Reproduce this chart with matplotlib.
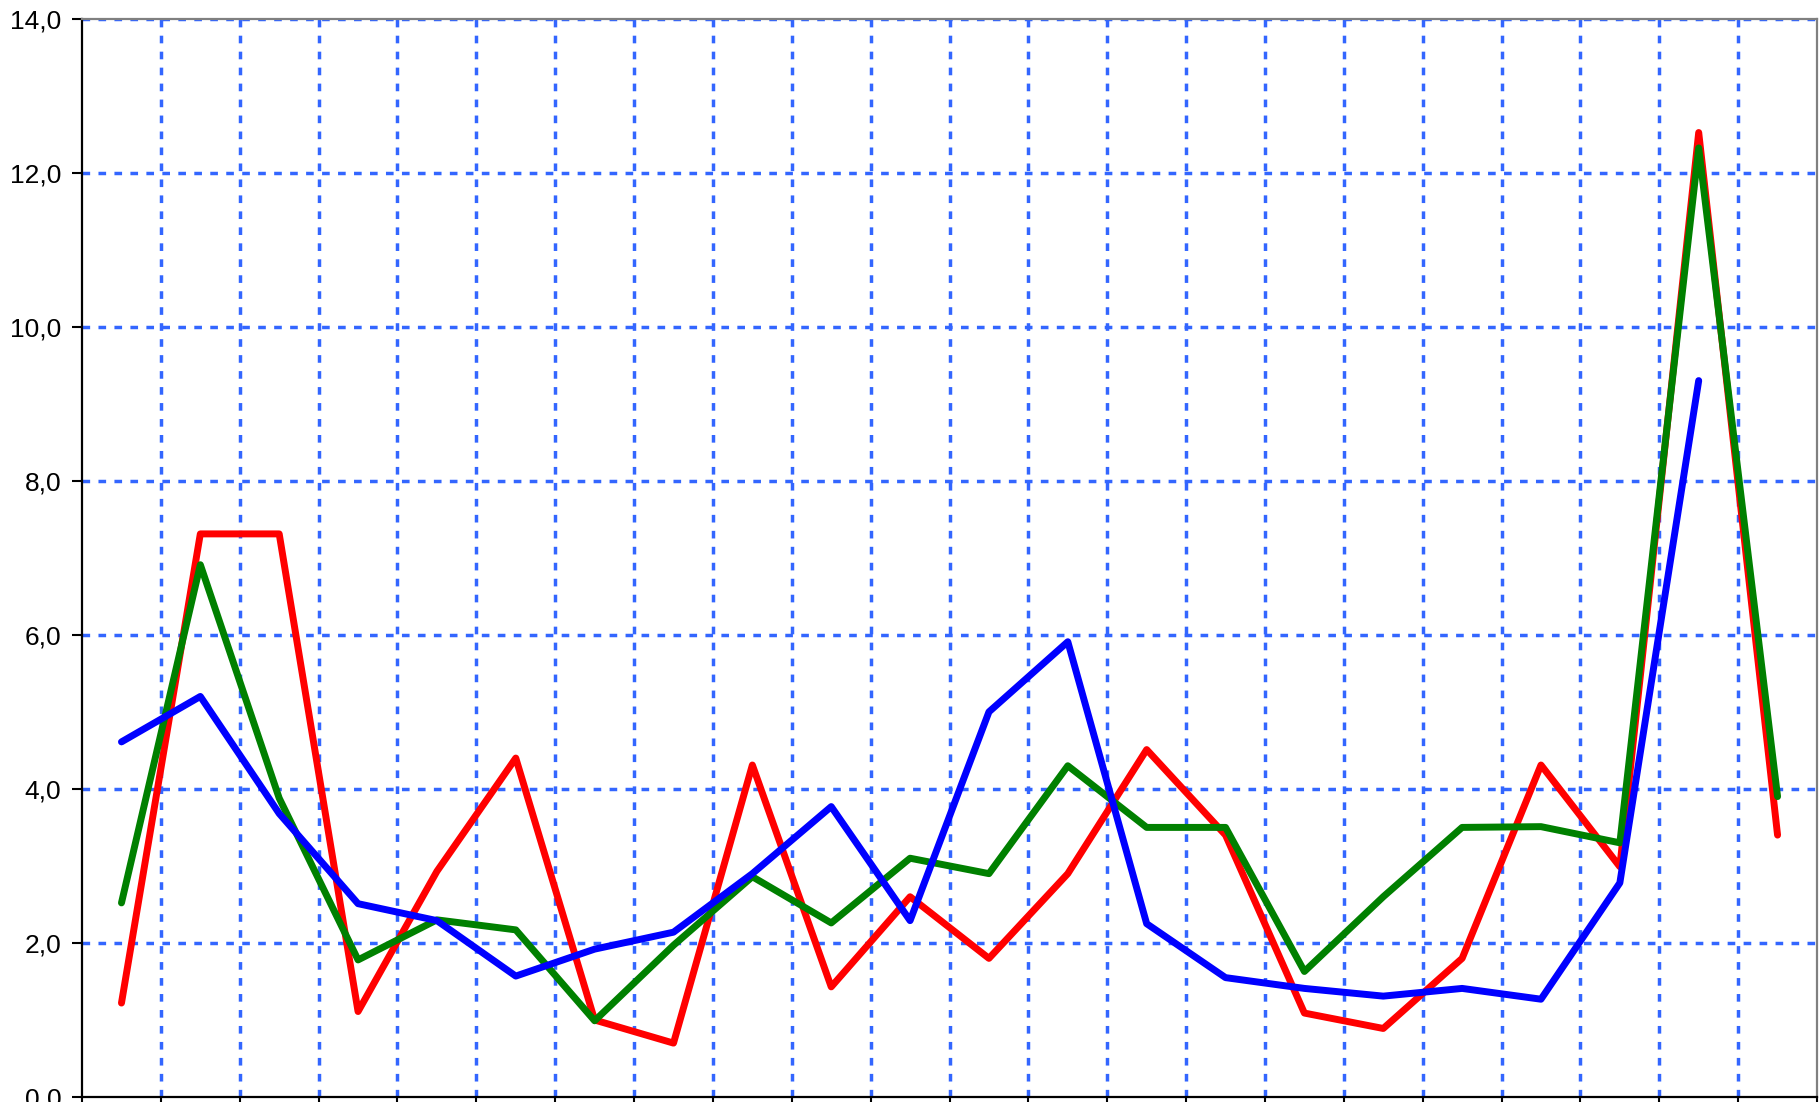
import numpy as np
import matplotlib.pyplot as plt
from matplotlib.ticker import FuncFormatter

# values (22 categories, no x labels)
red_vals = [1.22, 7.31, 7.31, 1.11, 2.93, 4.40, 1.00, 0.70, 4.31, 1.43, 2.60,
            1.80, 2.90, 4.51, 3.40, 1.09, 0.89, 1.80, 4.31, 2.99, 12.52, 3.40]
green_vals = [2.52, 6.91, 3.88, 1.78, 2.30, 2.17, 0.99, 1.97, 2.86, 2.26, 3.10,
              2.90, 4.30, 3.50, 3.50, 1.63, 2.60, 3.50, 3.51, 3.30, 12.32, 3.90]
blue_vals = [4.61, 5.20, 3.68, 2.51, 2.29, 1.57, 1.92, 2.14, 2.90, 3.77, 2.29,
             5.00, 5.91, 2.25, 1.55, 1.41, 1.31, 1.41, 1.27, 2.78, 9.30]

y_ticks = [0, 2, 4, 6, 8, 10, 12, 14]

plt.rcParams['font.family'] = ['Liberation Sans', 'DejaVu Sans']

fig = plt.figure(figsize=(18.19, 11.02), dpi=100)
ax = fig.add_axes([0.0451, 0.0045, 0.9538, 0.9787])

grid_col = '#3366ff'
grid_ls = (0, (2.2, 2.4))
n = len(red_vals)
bounds = np.arange(n + 1) - 0.5

# dotted grid
for b in bounds[1:-1]:
    ax.axvline(b, color=grid_col, lw=2.5, ls=grid_ls, zorder=1)
for t in y_ticks[1:]:
    ax.axhline(t, color=grid_col, lw=2.5, ls=grid_ls, zorder=1)

# series
ax.plot(np.arange(len(red_vals)), red_vals, color='#ff0000', lw=5,
        solid_capstyle='round', solid_joinstyle='round', zorder=3)
ax.plot(np.arange(len(green_vals)), green_vals, color='#008000', lw=5,
        solid_capstyle='round', solid_joinstyle='round', zorder=4)
ax.plot(np.arange(len(blue_vals)), blue_vals, color='#0000ff', lw=5,
        solid_capstyle='round', solid_joinstyle='round', zorder=5)

ax.set_xlim(-0.5, n - 0.5)
ax.set_ylim(0, 14)
ax.set_yticks(y_ticks)
ax.yaxis.set_major_formatter(FuncFormatter(lambda v, p: f'{v:.1f}'.replace('.', ',')))
ax.set_xticks(bounds)
ax.set_xticklabels([])
ax.tick_params(axis='y', direction='out', length=7, width=1.5, pad=8, labelsize=19)
ax.tick_params(axis='x', direction='out', length=6, width=1.5)

for side in ['left', 'bottom']:
    ax.spines[side].set_color('black')
    ax.spines[side].set_linewidth(1.6)
for side in ['top', 'right']:
    ax.spines[side].set_color('#808080')
    ax.spines[side].set_linewidth(1.6)

fig.savefig('out.png', dpi=100)
